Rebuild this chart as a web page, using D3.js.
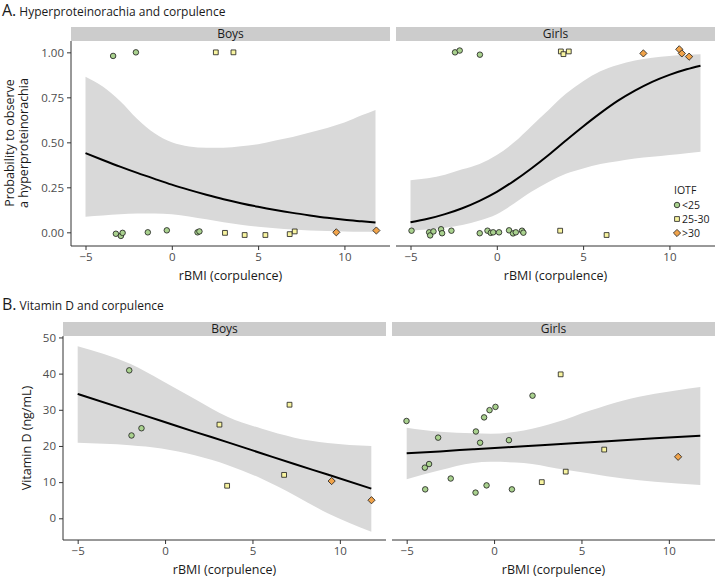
<!DOCTYPE html>
<html><head><meta charset="utf-8">
<script src="https://cdn.jsdelivr.net/npm/d3@7"></script>
<style>
html,body{margin:0;padding:0;background:#fff;}
svg{display:block;font-family:"Open Sans",sans-serif;}
</style></head>
<body>
<svg id="chart" width="717" height="578"></svg>
<script>
// ---------- DATA ----------
const facets = ["Boys", "Girls"];
const xTicks = [-5, 0, 5, 10];
const probTicks = [0, 0.25, 0.5, 0.75, 1];
const probTickLabels = ["0.00", "0.25", "0.50", "0.75", "1.00"];
const vitTicks = [0, 10, 20, 30, 40, 50];
const iotfGroups = ["<25", "25-30", ">30"];

// Panel A: points [rBMI, jittered outcome, IOTF group index]
const boysA_points = [
  [-3.40, 0.98, 0], [-2.08, 1.00, 0], [2.55, 1.00, 1], [3.57, 1.00, 1],
  [-3.24, -0.008, 0], [-2.95, -0.02, 0], [-2.85, -0.003, 0], [-1.39, 0.0, 0],
  [-0.29, 0.011, 0], [1.49, 0.0, 0], [1.60, 0.005, 0], [3.08, -0.003, 1],
  [4.22, -0.015, 1], [5.42, -0.015, 1], [6.83, -0.01, 1], [7.12, 0.005, 1],
  [9.53, 0.0, 2], [11.85, 0.01, 2]
];
const girlsA_points = [
  [-2.42, 1.00, 0], [-2.15, 1.01, 0], [-0.98, 0.987, 0],
  [3.71, 1.005, 1], [3.86, 0.99, 1], [4.17, 1.005, 1],
  [8.49, 0.994, 2], [10.57, 1.017, 2], [10.72, 0.994, 2], [11.14, 0.976, 2],
  [-4.94, 0.009, 0], [-3.92, 0.0, 0], [-3.86, -0.017, 0], [-3.67, 0.005, 0],
  [-3.23, 0.017, 0], [-3.17, -0.005, 0], [-2.63, 0.009, 0], [-0.99, -0.005, 0],
  [-0.54, 0.009, 0], [-0.35, -0.003, 0], [-0.21, 0.0, 0], [0.13, 0.0, 0],
  [0.71, 0.011, 0], [0.94, -0.006, 0], [1.10, 0.0, 0], [1.46, 0.009, 0],
  [1.54, -0.002, 0], [3.67, 0.009, 1], [6.36, -0.015, 1]
];
// Panel A: logistic fit and confidence band, read along rBMI
const fitA_x = [-5, -4, -3, -2, -1, 0, 1, 2, 3, 4, 5, 6, 7, 8, 9, 10, 11, 11.8];
const boysA_fit   = [0.44, 0.402, 0.365, 0.330, 0.297, 0.265, 0.236, 0.209, 0.184, 0.162, 0.142, 0.124, 0.108, 0.094, 0.081, 0.070, 0.061, 0.054];
const boysA_upper = [0.865, 0.81, 0.73, 0.63, 0.55, 0.50, 0.477, 0.47, 0.47, 0.478, 0.49, 0.51, 0.53, 0.555, 0.58, 0.61, 0.65, 0.68];
const boysA_lower = [0.087, 0.094, 0.10, 0.105, 0.105, 0.10, 0.088, 0.072, 0.056, 0.042, 0.031, 0.022, 0.015, 0.010, 0.007, 0.005, 0.003, 0.002];
const girlsA_fit   = [0.056, 0.075, 0.101, 0.134, 0.175, 0.225, 0.286, 0.355, 0.430, 0.510, 0.588, 0.662, 0.730, 0.787, 0.836, 0.875, 0.906, 0.926];
const girlsA_upper = [0.29, 0.30, 0.32, 0.35, 0.38, 0.43, 0.50, 0.59, 0.68, 0.77, 0.84, 0.895, 0.93, 0.955, 0.97, 0.98, 0.987, 0.99];
const girlsA_lower = [0.009, 0.015, 0.025, 0.04, 0.065, 0.10, 0.16, 0.225, 0.28, 0.325, 0.355, 0.38, 0.395, 0.41, 0.42, 0.43, 0.44, 0.448];

// Panel B: points [rBMI, vitamin D (ng/mL), IOTF group index]
const boysB_points = [
  [-2.05, 40.9, 0], [-1.92, 22.9, 0], [-1.35, 24.9, 0],
  [3.11, 25.9, 1], [3.55, 9.0, 1], [7.12, 31.4, 1], [6.81, 12.0, 1],
  [9.53, 10.3, 2], [11.81, 5.0, 2]
];
const girlsB_points = [
  [-5.01, 26.9, 0], [-3.20, 22.3, 0], [-3.96, 14.0, 0], [-3.72, 15.0, 0],
  [-3.94, 8.0, 0], [-2.48, 11.0, 0], [-1.04, 24.0, 0], [-0.80, 20.9, 0],
  [-0.57, 27.9, 0], [-0.26, 29.9, 0], [0.08, 30.8, 0], [-1.06, 7.1, 0],
  [-0.43, 9.1, 0], [0.85, 21.6, 0], [1.02, 8.0, 0], [2.20, 33.9, 0],
  [3.81, 39.8, 1], [2.73, 10.0, 1], [4.10, 12.9, 1], [6.30, 19.0, 1],
  [10.53, 17.0, 2]
];
// Panel B: linear fit and confidence band
const boysB_x     = [-5, -2, -0.2, 1.7, 3.6, 5.5, 7.4, 9.3, 11.8];
const boysB_fit   = [34.4, 29.7, 26.9, 23.9, 21.0, 18.0, 15.0, 12.1, 8.2];
const boysB_upper = [47.6, 42.7, 38.1, 33.0, 28.0, 24.8, 22.3, 20.8, 20.0];
const boysB_lower = [20.9, 20.2, 19.3, 17.4, 14.7, 11.0, 6.4, 1.4, -3.7];
const girlsB_x     = [-5, -3.1, -1.2, -0.2, 1.7, 3.6, 5.5, 7.4, 9.2, 11.8];
const girlsB_fit   = [18.0, 18.5, 19.1, 19.4, 19.9, 20.5, 21.0, 21.6, 22.1, 22.8];
const girlsB_upper = [25.0, 23.9, 23.5, 23.4, 24.3, 26.6, 29.8, 32.6, 34.4, 36.3];
const girlsB_lower = [10.8, 13.3, 15.3, 15.6, 15.3, 13.8, 12.4, 11.0, 10.1, 9.2];

// ---------- STYLE ----------
const groupFill = ["#a9d18e", "#f8f4a0", "#f0a34a"];
const bandFill = "#d9d9d9";
const stripFill = "#cccccc";
const textCol = "#4d4d4d";

const svg = d3.select("#chart");

function drawPanel(opt) {
  const g = svg.append("g");
  const x = d3.scaleLinear().domain([-5.84, 12.64]).range([opt.x0, opt.x1]);
  const y = d3.scaleLinear().domain(opt.yDomain).range([opt.yBottom, opt.yTop]);
  // strip
  g.append("rect").attr("x", opt.x0).attr("y", opt.stripY).attr("width", opt.x1 - opt.x0)
    .attr("height", opt.yTop - opt.stripY).attr("fill", stripFill);
  g.append("text").attr("x", (opt.x0 + opt.x1) / 2).attr("y", opt.stripY + 11.2)
    .attr("text-anchor", "middle").attr("font-size", "12px").attr("fill", "#1a1a1a").text(opt.label);
  // band
  const band = opt.fx.map((v, i) => [v, opt.lower[i], opt.upper[i]]);
  g.append("path").datum(band)
    .attr("d", d3.area().curve(d3.curveMonotoneX).x(d => x(d[0])).y0(d => y(d[1])).y1(d => y(d[2])))
    .attr("fill", bandFill);
  const line = opt.fx.map((v, i) => [v, opt.fit[i]]);
  g.append("path").datum(line)
    .attr("d", d3.line().curve(d3.curveMonotoneX).x(d => x(d[0])).y(d => y(d[1])))
    .attr("fill", "none").attr("stroke", "#000").attr("stroke-width", 2);
  // points
  drawPoints(g, opt.points, x, y);
  // x axis
  const xa = g.append("g").attr("transform", `translate(0,${opt.yBottom})`)
    .call(d3.axisBottom(x).tickValues(xTicks).tickSize(4).tickPadding(3).tickFormat(d => d < 0 ? "\u2212" + Math.abs(d) : d));
  styleAxis(xa);
  xa.select(".domain").attr("d", `M${opt.x0},0H${opt.x1}`);
  g.append("text").attr("x", (opt.x0 + opt.x1) / 2).attr("y", opt.yBottom + 34)
    .attr("text-anchor", "middle").attr("font-size", "12.5px").attr("fill", "#1a1a1a").text("rBMI (corpulence)");
  // y axis
  if (opt.yAxis) {
    const ya = g.append("g").attr("transform", `translate(${opt.x0},0)`)
      .call(d3.axisLeft(y).tickValues(opt.yTicks).tickSize(4).tickPadding(3)
        .tickFormat((d, i) => opt.yTickLabels ? opt.yTickLabels[i] : d));
    styleAxis(ya);
    ya.select(".domain").attr("d", `M0,${opt.yTop}V${opt.yBottom}`);
  }
  return { x, y };
}

function styleAxis(a) {
  a.select(".domain").attr("stroke", "#333").attr("stroke-width", 1);
  a.selectAll(".tick line").attr("stroke", "#333").attr("stroke-width", 1);
  a.selectAll(".tick text").attr("fill", textCol).attr("font-size", "11.5px")
    .attr("font-family", "Open Sans, sans-serif");
}

function symbolPath(k) {
  if (k === 0) return d3.symbol(d3.symbolCircle, 24)();
  if (k === 1) return "M-2.4,-2.4H2.4V2.4H-2.4Z";
  return "M0,-3.6L3.6,0L0,3.6L-3.6,0Z";
}

function drawPoints(g, pts, x, y) {
  g.append("g").selectAll("path").data(pts).join("path")
    .attr("transform", d => `translate(${x(d[0])},${y(d[1])})`)
    .attr("d", d => symbolPath(d[2]))
    .attr("fill", d => groupFill[d[2]])
    .attr("stroke", "#1a1a1a").attr("stroke-width", 0.8);
}

// ---------- PANEL A ----------
const A = { stripY: 27, yTop: 41, yBottom: 246, yDomain: [-0.076, 1.063], yTicks: probTicks, yTickLabels: probTickLabels };
drawPanel(Object.assign({}, A, { x0: 71, x1: 390, label: facets[0], points: boysA_points, fx: fitA_x, fit: boysA_fit, upper: boysA_upper, lower: boysA_lower, yAxis: true }));
drawPanel(Object.assign({}, A, { x0: 396, x1: 715, label: facets[1], points: girlsA_points, fx: fitA_x, fit: girlsA_fit, upper: girlsA_upper, lower: girlsA_lower, yAxis: false }));

// ---------- PANEL B ----------
const B = { stripY: 322, yTop: 336, yBottom: 540, yDomain: [-6.0, 50.4], yTicks: vitTicks, yTickLabels: null };
drawPanel(Object.assign({}, B, { x0: 63, x1: 386, label: facets[0], points: boysB_points, fx: boysB_x, fit: boysB_fit, upper: boysB_upper, lower: boysB_lower, yAxis: true }));
drawPanel(Object.assign({}, B, { x0: 392, x1: 715, label: facets[1], points: girlsB_points, fx: girlsB_x, fit: girlsB_fit, upper: girlsB_upper, lower: girlsB_lower, yAxis: false }));

// ---------- TITLES ----------
function title(y, letter, rest) {
  const t = svg.append("text").attr("x", 2).attr("y", y).attr("fill", "#1a1a1a");
  t.append("tspan").attr("font-size", "16px").text(letter);
  t.append("tspan").attr("font-size", "12px").attr("dx", 3).text(rest);
}
title(16, "A.", "Hyperproteinorachia and corpulence");
title(310, "B.", "Vitamin D and corpulence");

// y-axis titles
const yt = svg.append("text").attr("transform", "translate(14,143) rotate(-90)")
  .attr("text-anchor", "middle").attr("font-size", "12.5px").attr("fill", "#1a1a1a");
yt.append("tspan").attr("x", 0).attr("dy", 0).text("Probability to observe");
yt.append("tspan").attr("x", 0).attr("dy", 13.5).text("a hyperproteinorachia");
svg.append("text").attr("transform", "translate(31,438) rotate(-90)")
  .attr("text-anchor", "middle").attr("font-size", "12.5px").attr("fill", "#1a1a1a").text("Vitamin D (ng/mL)");

// ---------- LEGEND ----------
const lg = svg.append("g");
lg.append("text").attr("x", 674).attr("y", 193.5).attr("font-size", "10.5px").attr("fill", "#1a1a1a").text("IOTF");
iotfGroups.forEach((lab, i) => {
  const yy = 205 + i * 14;
  lg.append("path").attr("transform", `translate(677,${yy})`).attr("d", symbolPath(i))
    .attr("fill", groupFill[i]).attr("stroke", "#1a1a1a").attr("stroke-width", 0.8);
  lg.append("text").attr("x", 682).attr("y", yy + 3.8).attr("font-size", "10.5px").attr("fill", "#1a1a1a").text(lab);
});
</script>
</body></html>
